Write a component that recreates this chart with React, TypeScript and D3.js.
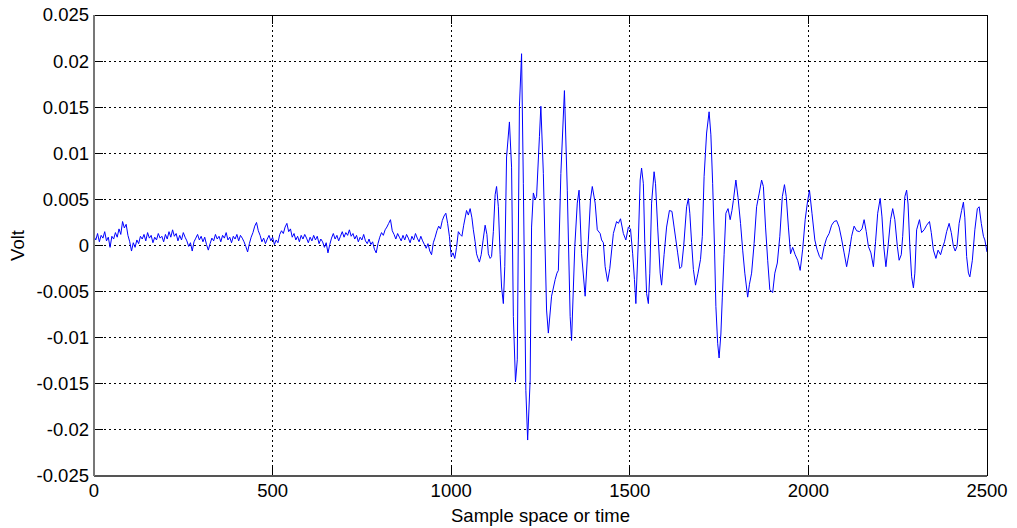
import React from 'react'
import * as d3 from 'd3'

// tick values and labels (MATLAB style)
const xTicks = [0, 500, 1000, 1500, 2000, 2500]
const xTickLabels = ['0', '500', '1000', '1500', '2000', '2500']
const yTicks = [0.025, 0.02, 0.015, 0.01, 0.005, 0, -0.005, -0.01, -0.015, -0.02, -0.025]
const yTickLabels = ['0.025', '0.02', '0.015', '0.01', '0.005', '0', '-0.005', '-0.01', '-0.015', '-0.02', '-0.025']

// quiet part of the record, one reading every 5 samples (0 .. 1000)
const quietVolts = [
  0.0010, 0.0006, 0.0013, 0.0004, 0.0011, 0.0008, 0.0015, 0.0005, 0.0009, -0.0002,
  0.0010, 0.0007, 0.0014, 0.0009, 0.0018, 0.0012, 0.0026, 0.0019, 0.0023, 0.0011,
  0.0004, -0.0006, 0.0003, -0.0002, 0.0006, 0.0002, 0.0010, 0.0007, 0.0012, 0.0005,
  0.0014, 0.0008, 0.0011, 0.0003, 0.0009, 0.0006, 0.0013, 0.0008, 0.0010, 0.0004,
  0.0012, 0.0007, 0.0015, 0.0009, 0.0017, 0.0010, 0.0013, 0.0005, 0.0011, 0.0006,
  0.0014, 0.0009, 0.0005, -0.0001, 0.0003, -0.0006, 0.0004, 0.0008, 0.0012, 0.0006,
  0.0010, 0.0004, 0.0009, 0.0001, -0.0005, 0.0002, 0.0008, 0.0005, 0.0012, 0.0007,
  0.0010, 0.0004, 0.0011, 0.0008, 0.0014, 0.0006, 0.0009, 0.0003, 0.0010, 0.0007,
  0.0012, 0.0005, 0.0011, 0.0008, 0.0004, -0.0001, -0.0007, 0.0002, 0.0009, 0.0014,
  0.0021, 0.0025, 0.0016, 0.0011, 0.0004, 0.0008, 0.0002, 0.0007, 0.0011, 0.0005,
  0.0009, 0.0001, 0.0006, 0.0003, 0.0012, 0.0016, 0.0013, 0.0020, 0.0024, 0.0015,
  0.0018, 0.0009, 0.0013, 0.0006, 0.0010, 0.0004, 0.0011, 0.0007, 0.0012, 0.0008,
  0.0003, 0.0009, 0.0005, 0.0011, 0.0006, 0.0010, 0.0002, 0.0007, 0.0004, -0.0002,
  0.0003, -0.0008, 0.0001, 0.0008, 0.0013, 0.0007, 0.0011, 0.0005, 0.0010, 0.0015,
  0.0009, 0.0014, 0.0011, 0.0017, 0.0010, 0.0013, 0.0007, 0.0011, 0.0004, 0.0009,
  0.0006, 0.0012, 0.0005, 0.0002, 0.0007, 0.0001, 0.0004, -0.0004, -0.0008, 0.0002,
  0.0009, 0.0014, 0.0011, 0.0017, 0.0020, 0.0024, 0.0028, 0.0016, 0.0012, 0.0007,
  0.0013, 0.0009, 0.0005, 0.0011, 0.0006, 0.0012, 0.0008, 0.0003, 0.0010, 0.0006,
  0.0013, 0.0008, 0.0004, 0.0010, 0.0005, 0.0001, -0.0003, 0.0002, -0.0006, -0.0010,
  0.0003, 0.0009, 0.0016, 0.0021, 0.0018, 0.0027, 0.0032, 0.0035, 0.0024, 0.0010,
  -0.0012,
]

// oscillating part: [sample, volt] readings (1005 .. 2500)
const eventReadings: [number, number][] = [
  [1005, -0.0008], [1010, -0.0014], [1015, -0.0002], [1020, 0.0015], [1025, 0.0012],
  [1030, 0.0010], [1035, 0.0022], [1043, 0.0038], [1048, 0.0033], [1053, 0.0040],
  [1058, 0.0030], [1062, 0.0017], [1067, 0.0004], [1071, -0.0009], [1075, -0.0014],
  [1079, -0.0018], [1084, -0.0010], [1089, 0.0005], [1095, 0.0022], [1100, 0.0012],
  [1104, -0.0009], [1109, -0.0014], [1113, -0.0012], [1118, 0.0015], [1123, 0.0055],
  [1127, 0.0064], [1132, 0.0042], [1137, -0.0010], [1141, -0.0045], [1146, -0.0063],
  [1150, -0.0023], [1155, 0.0096], [1163, 0.0134], [1169, 0.0085], [1174, -0.0077],
  [1180, -0.0148], [1185, -0.0124], [1191, 0.0151], [1197, 0.0208], [1202, 0.0067],
  [1209, -0.0157], [1214, -0.0211], [1221, -0.0146], [1225, 0.0020], [1230, 0.0057],
  [1235, 0.0050], [1239, 0.0053], [1247, 0.0118], [1251, 0.0151], [1258, 0.0078],
  [1267, -0.0070], [1272, -0.0095], [1281, -0.0055], [1291, -0.0037], [1296, -0.0030],
  [1300, -0.0027], [1307, 0.0078], [1317, 0.0168], [1325, 0.0060], [1333, -0.0077],
  [1337, -0.0103], [1346, -0.0001], [1353, 0.0046], [1358, 0.0060], [1365, -0.0009],
  [1375, -0.0055], [1384, 0.0006], [1390, 0.0050], [1395, 0.0064], [1403, 0.0046],
  [1409, 0.0017], [1417, 0.0013], [1421, 0.0006], [1426, 0.0003], [1431, -0.0023],
  [1438, -0.0039], [1444, -0.0025], [1454, 0.0013], [1463, 0.0026], [1468, 0.0024],
  [1474, 0.0029], [1482, 0.0013], [1489, 0.0006], [1496, 0.0020], [1502, 0.0018],
  [1508, -0.0009], [1513, -0.0037], [1517, -0.0063], [1524, 0.0006], [1529, 0.0071],
  [1533, 0.0084], [1538, 0.0067], [1542, 0.0002], [1547, -0.0052], [1552, -0.0063],
  [1556, -0.0030], [1561, 0.0046], [1568, 0.0080], [1572, 0.0067], [1578, 0.0020],
  [1585, -0.0030], [1589, -0.0043], [1596, -0.0010], [1603, 0.0020], [1611, 0.0038],
  [1618, 0.0037], [1624, 0.0020], [1629, 0.0006], [1634, -0.0008], [1640, -0.0025],
  [1645, -0.0023], [1651, 0.0000], [1659, 0.0042], [1664, 0.0051], [1668, 0.0035],
  [1673, 0.0003], [1678, -0.0026], [1684, -0.0043], [1691, -0.0030], [1698, -0.0015],
  [1703, 0.0010], [1708, 0.0075], [1715, 0.0122], [1722, 0.0145], [1727, 0.0120],
  [1732, 0.0067], [1737, 0.0000], [1741, -0.0066], [1746, -0.0106], [1750, -0.0122],
  [1755, -0.0096], [1759, -0.0056], [1764, -0.0010], [1769, 0.0035], [1775, 0.0040],
  [1781, 0.0028], [1786, 0.0038], [1790, 0.0049], [1797, 0.0071], [1803, 0.0052],
  [1810, 0.0024], [1816, -0.0005], [1822, -0.0030], [1830, -0.0056], [1835, -0.0042],
  [1841, -0.0030], [1848, 0.0002], [1855, 0.0042], [1862, 0.0056], [1869, 0.0071],
  [1874, 0.0064], [1880, 0.0020], [1886, -0.0016], [1892, -0.0048], [1900, -0.0051],
  [1906, -0.0030], [1913, -0.0019], [1920, 0.0010], [1927, 0.0053], [1933, 0.0066],
  [1938, 0.0053], [1944, 0.0020], [1950, -0.0009], [1956, -0.0002], [1963, -0.0010],
  [1970, -0.0016], [1977, -0.0027], [1984, -0.0004], [1991, 0.0028], [1997, 0.0046],
  [2003, 0.0060], [2010, 0.0035], [2018, 0.0006], [2024, -0.0004], [2031, -0.0012],
  [2037, -0.0015], [2044, -0.0001], [2051, 0.0008], [2058, 0.0013], [2065, 0.0022],
  [2072, 0.0026], [2079, 0.0027], [2086, 0.0020], [2093, 0.0007], [2100, -0.0008],
  [2107, -0.0023], [2114, -0.0008], [2121, 0.0010], [2128, 0.0021], [2135, 0.0016],
  [2143, 0.0015], [2150, 0.0018], [2156, 0.0028], [2162, 0.0015], [2168, -0.0001],
  [2175, -0.0008], [2182, -0.0023], [2188, 0.0004], [2194, 0.0035], [2201, 0.0051],
  [2206, 0.0031], [2211, -0.0001], [2217, -0.0023], [2223, -0.0001], [2230, 0.0028],
  [2236, 0.0040], [2242, 0.0028], [2249, -0.0001], [2254, -0.0016], [2260, -0.0010],
  [2264, 0.0010], [2270, 0.0053], [2275, 0.0060], [2279, 0.0045], [2284, -0.0001],
  [2289, -0.0034], [2294, -0.0046], [2298, -0.0030], [2303, 0.0017], [2311, 0.0028],
  [2317, 0.0014], [2324, 0.0017], [2331, 0.0022], [2339, 0.0026], [2344, 0.0014],
  [2350, -0.0005], [2357, -0.0014], [2363, -0.0005], [2370, -0.0010], [2375, -0.0003],
  [2381, 0.0004], [2387, 0.0015], [2394, 0.0024], [2400, 0.0014], [2406, -0.0001],
  [2411, -0.0006], [2416, -0.0001], [2422, 0.0024], [2429, 0.0038], [2434, 0.0047],
  [2438, 0.0030], [2443, -0.0012], [2448, -0.0030], [2452, -0.0034], [2459, -0.0016],
  [2466, 0.0017], [2473, 0.0040], [2478, 0.0042], [2484, 0.0024], [2490, 0.0010],
  [2494, 0.0006], [2500, -0.0007],
]

const W = 1017
const H = 528
const margin = { top: 15, right: 30, bottom: 52, left: 94 }
const font = 'Liberation Sans, Arial, sans-serif'

export default function App() {
  const x = d3.scaleLinear().domain([0, 2500]).range([margin.left, W - margin.right])
  const y = d3.scaleLinear().domain([-0.025, 0.025]).range([H - margin.bottom, margin.top])

  const points: [number, number][] = quietVolts
    .map((v, i) => [i * 5, v] as [number, number])
    .concat(eventReadings)

  const line = d3.line<[number, number]>()
    .x(d => x(d[0]))
    .y(d => y(d[1]))

  const x0 = x(0), x1 = x(2500), y0 = y(-0.025), y1 = y(0.025)
  const tick = 9

  return (
    <svg width={W} height={H} style={{ position: 'absolute', left: 0, top: 0, background: '#fff' }}>
      <rect x={0} y={0} width={W} height={H} fill="#fff" />
      <rect x={x0} y={y1} width={x1 - x0} height={y0 - y1} fill="#fff" />

      {/* grid */}
      {xTicks.slice(1, -1).map(t => (
        <line key={'gx' + t} x1={x(t)} x2={x(t)} y1={y1} y2={y0}
          stroke="#000" strokeWidth={1} strokeDasharray="2,3" shapeRendering="crispEdges" />
      ))}
      {yTicks.slice(1, -1).map(t => (
        <line key={'gy' + t} x1={x0} x2={x1} y1={y(t)} y2={y(t)}
          stroke="#000" strokeWidth={1} strokeDasharray="2,3" shapeRendering="crispEdges" />
      ))}

      {/* ticks inside the box */}
      {xTicks.map(t => (
        <g key={'tx' + t} stroke="#000" shapeRendering="crispEdges">
          <line x1={x(t)} x2={x(t)} y1={y0} y2={y0 - tick} />
          <line x1={x(t)} x2={x(t)} y1={y1} y2={y1 + tick} />
        </g>
      ))}
      {yTicks.map(t => (
        <g key={'ty' + t} stroke="#000" shapeRendering="crispEdges">
          <line x1={x0} x2={x0 + tick} y1={y(t)} y2={y(t)} />
          <line x1={x1} x2={x1 - tick} y1={y(t)} y2={y(t)} />
        </g>
      ))}

      {/* signal */}
      <path d={line(points) || ''} fill="none" stroke="#0000ff" strokeWidth={1} strokeLinejoin="round" />

      {/* box */}
      <line x1={x0} x2={x1} y1={y1} y2={y1} stroke="#000" shapeRendering="crispEdges" />
      <line x1={x1} x2={x1} y1={y1} y2={y0} stroke="#000" shapeRendering="crispEdges" />
      <line x1={x0} x2={x1} y1={y0} y2={y0} stroke="#555" strokeWidth={1.5} shapeRendering="crispEdges" />
      <line x1={x0} x2={x0} y1={y1} y2={y0} stroke="#777" strokeWidth={1.5} shapeRendering="crispEdges" />

      {/* tick labels */}
      {yTicks.map((t, i) => (
        <text key={'ly' + t} x={x0 - 5} y={y(t)} dy="0.35em" textAnchor="end"
          fontFamily={font} fontSize={18.5} fill="#000">{yTickLabels[i]}</text>
      ))}
      {xTicks.map((t, i) => (
        <text key={'lx' + t} x={x(t)} y={y0 + 21} textAnchor="middle"
          fontFamily={font} fontSize={18.5} fill="#000">{xTickLabels[i]}</text>
      ))}

      {/* axis titles */}
      <text x={(x0 + x1) / 2} y={H - 6} textAnchor="middle" fontFamily={font} fontSize={18.5}>
        Sample space or time
      </text>
      <text transform={`translate(24, ${(y0 + y1) / 2}) rotate(-90)`} textAnchor="middle"
        fontFamily={font} fontSize={18.5}>Volt</text>
    </svg>
  )
}
